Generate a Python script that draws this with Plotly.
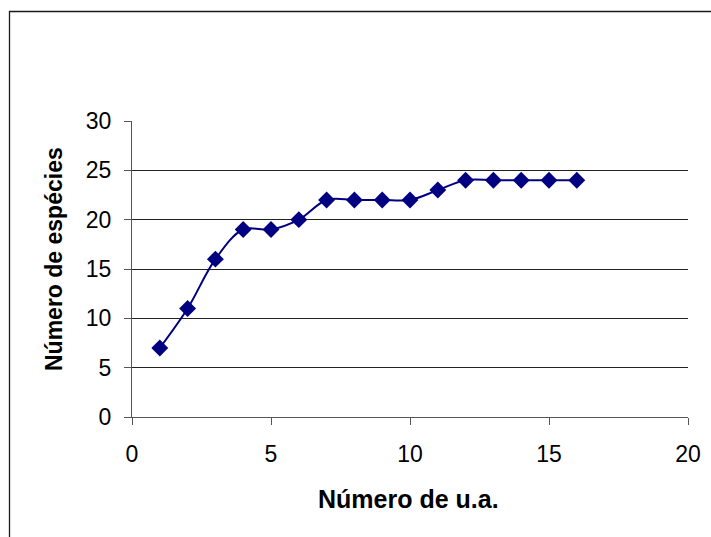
import plotly.graph_objects as go

# Species accumulation: number of sampling units vs. number of species
unidades = [1, 2, 3, 4, 5, 6, 7, 8, 9, 10, 11, 12, 13, 14, 15, 16]
especies = [7, 11, 16, 19, 19, 20, 22, 22, 22, 22, 23, 24, 24, 24, 24, 24]

x_ticks = [0, 5, 10, 15, 20]
y_ticks = [0, 5, 10, 15, 20, 25, 30]

x_title = "<b>Número de u.a.</b>"
y_title = "<b>Número de espécies</b>"

W, H = 711, 537
ML, MR, MT, MB = 132, 23, 121, 120
pw = W - ML - MR
ph = H - MT - MB


def px_to_paper_x(px):
    return (px - ML) / pw


def px_to_paper_y(py):
    return (H - MB - py) / ph


fig = go.Figure()
fig.add_trace(go.Scatter(
    x=unidades, y=especies,
    mode="lines+markers",
    line=dict(color="#000080", width=2, shape="spline", smoothing=1),
    marker=dict(symbol="diamond", size=13, color="#000080"),
    showlegend=False,
))

family = "Liberation Sans, Arial, sans-serif"

fig.update_layout(
    width=W, height=H,
    margin=dict(l=ML, r=MR, t=MT, b=MB),
    paper_bgcolor="white", plot_bgcolor="white",
    font=dict(family=family, color="black", size=23),
    xaxis=dict(
        range=[0, 20], tickvals=x_ticks, ticks="outside", ticklen=7,
        tickcolor="#555555", showline=True, linecolor="#555555", linewidth=1,
        showgrid=False, zeroline=False, ticklabelstandoff=9, automargin=False,
        tickfont=dict(size=23),
    ),
    yaxis=dict(
        range=[0, 30], tickvals=y_ticks, ticks="outside", ticklen=7,
        tickcolor="#555555", showline=True, linecolor="#555555", linewidth=1,
        showgrid=True, gridcolor="#222222", gridwidth=1, zeroline=False,
        ticklabelstandoff=8, automargin=False,
        tickfont=dict(size=23),
    ),
)

# Axis titles
fig.add_annotation(
    text=x_title, xref="paper", yref="paper",
    x=px_to_paper_x(408), y=px_to_paper_y(499),
    xanchor="center", yanchor="middle", showarrow=False,
    font=dict(size=25, family=family, color="black"),
)
fig.add_annotation(
    text=y_title, xref="paper", yref="paper",
    x=px_to_paper_x(54), y=px_to_paper_y(259),
    xanchor="center", yanchor="middle", showarrow=False, textangle=-90,
    font=dict(size=23, family=family, color="black"),
)

# Outer chart frame (runs past the right and bottom edges of the page)
fig.add_shape(
    type="rect", xref="paper", yref="paper",
    x0=px_to_paper_x(9.5), x1=px_to_paper_x(730),
    y0=px_to_paper_y(560), y1=px_to_paper_y(11.5),
    line=dict(color="#1a1a1a", width=1.3), fillcolor="rgba(0,0,0,0)",
    layer="above",
)

fig.write_html("out.html")
